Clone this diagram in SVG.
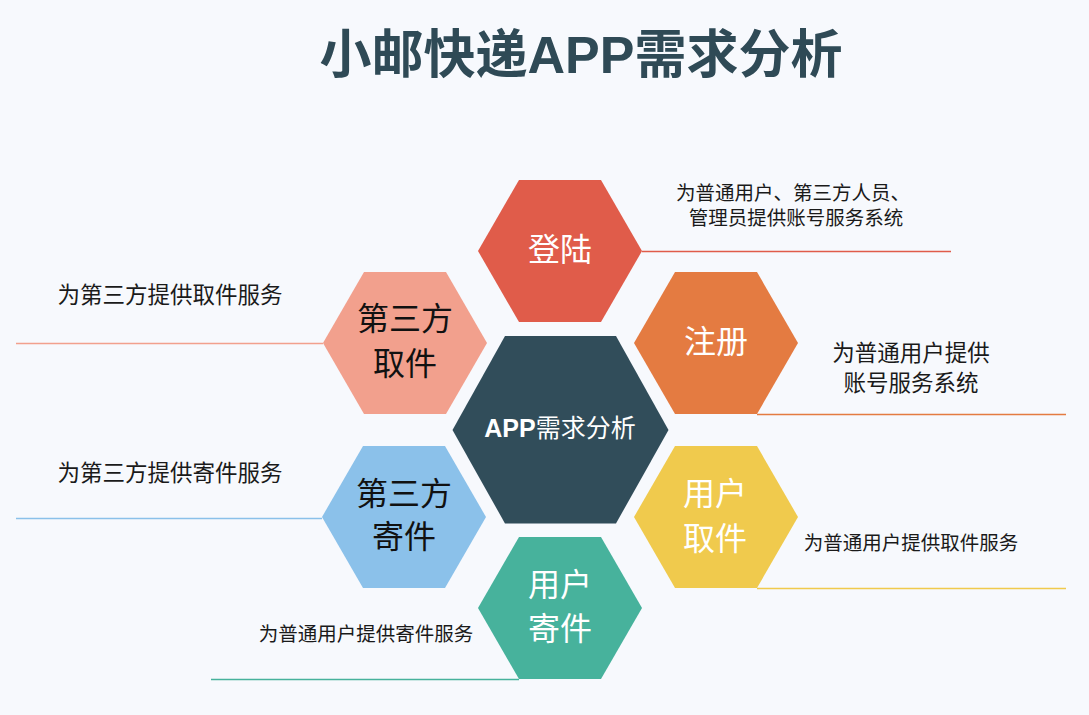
<svg xmlns="http://www.w3.org/2000/svg" width="1089" height="715" viewBox="0 0 1089 715">
<style>
.bg{fill:#F7F9FD}
.title{font-family:"Liberation Serif","Noto Sans CJK SC",serif;font-size:52px;font-weight:bold;fill:#2F4A56;text-anchor:middle}
.lbl{font-family:"Liberation Serif","Noto Sans CJK SC",serif;font-size:32px;text-anchor:middle}
.ctr{font-family:"Liberation Serif","Noto Sans CJK SC",serif;font-size:25px;text-anchor:middle;fill:#FFFFFF}
.w{fill:#FFFFFF}
.k{fill:#111111}
.desc{font-family:"Liberation Serif","Noto Sans CJK SC",serif;fill:#1A1A1A;text-anchor:middle}
.ln{stroke-width:1.3;fill:none}
</style>
<rect class="bg" x="0" y="0" width="1089" height="715"/>
<text class="title" x="581" y="73">小邮快递<tspan font-family="Liberation Sans,Arial,sans-serif">APP</tspan>需求分析</text>
<g id="connectors">
<line class="ln" x1="642" y1="251.5" x2="951" y2="251.5" stroke="#E05C4A"/>
<line class="ln" x1="16" y1="343.5" x2="323" y2="343.5" stroke="#F2A08D"/>
<line class="ln" x1="757" y1="414.5" x2="1066" y2="414.5" stroke="#E47B41"/>
<line class="ln" x1="16" y1="518.5" x2="322" y2="518.5" stroke="#8BC1EA"/>
<line class="ln" x1="757" y1="588.5" x2="1066" y2="588.5" stroke="#F0CA4D"/>
<line class="ln" x1="211" y1="679.5" x2="519" y2="679.5" stroke="#47B29C"/>
</g>
<g id="center">
<polygon points="452.5,430 505,336 616,336 668.5,430 616,523.5 505,523.5" fill="#314D5A"/>
<text class="ctr" x="560" y="437"><tspan font-family="Liberation Sans,Arial,sans-serif" font-weight="bold">APP</tspan>需求分析</text>
</g>
<g id="login">
<polygon points="478,251 519,180 601,180 642,251 601,322 519,322" fill="#E05C4A"/>
<text class="lbl w" x="560" y="261">登陆</text>
<text class="desc" x="793" y="200" font-size="19.5">为普通用户、第三方人员、</text>
<text class="desc" x="796" y="225" font-size="19.5">管理员提供账号服务系统</text>
</g>
<g id="third-pickup">
<polygon points="323,343 364,272 446,272 487,343 446,414 364,414" fill="#F2A08D"/>
<text class="lbl k" x="405" y="330">第三方</text>
<text class="lbl k" x="405" y="375">取件</text>
<text class="desc" x="170" y="303" font-size="22.5">为第三方提供取件服务</text>
</g>
<g id="register">
<polygon points="634,343 675,272 757,272 798,343 757,414 675,414" fill="#E47B41"/>
<text class="lbl w" x="716" y="353">注册</text>
<text class="desc" x="911" y="361" font-size="22.5">为普通用户提供</text>
<text class="desc" x="911" y="391" font-size="22.5">账号服务系统</text>
</g>
<g id="third-send">
<polygon points="322,517 363,446 445,446 486,517 445,588 363,588" fill="#8BC1EA"/>
<text class="lbl k" x="404" y="505">第三方</text>
<text class="lbl k" x="404" y="548">寄件</text>
<text class="desc" x="170" y="481" font-size="22.5">为第三方提供寄件服务</text>
</g>
<g id="user-pickup">
<polygon points="634,517 675,446 757,446 798,517 757,588 675,588" fill="#F0CA4D"/>
<text class="lbl w" x="715" y="505">用户</text>
<text class="lbl w" x="715" y="550">取件</text>
<text class="desc" x="911" y="550" font-size="19.5">为普通用户提供取件服务</text>
</g>
<g id="user-send">
<polygon points="478,608 519,537 601,537 642,608 601,679 519,679" fill="#47B29C"/>
<text class="lbl w" x="560" y="596">用户</text>
<text class="lbl w" x="560" y="640">寄件</text>
<text class="desc" x="366" y="641" font-size="19.5">为普通用户提供寄件服务</text>
</g>
</svg>
